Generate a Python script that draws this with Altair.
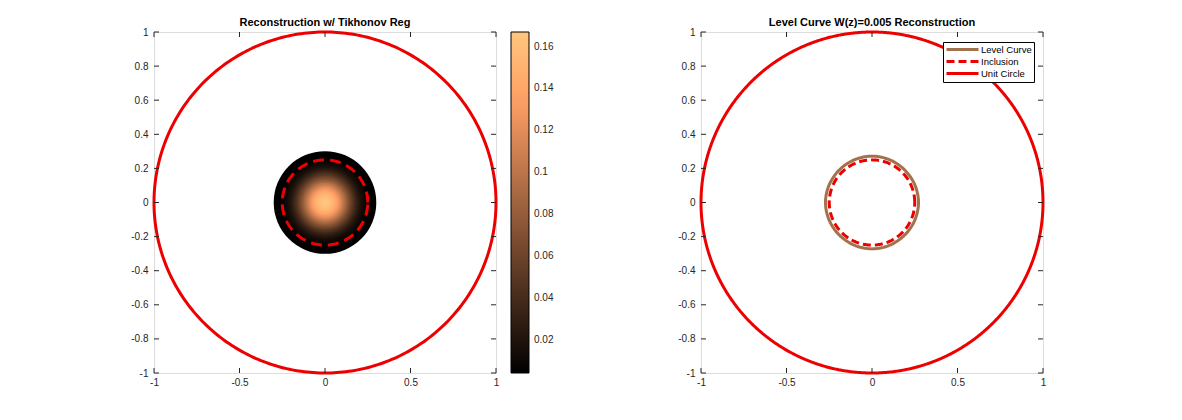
import numpy as np
import pandas as pd
import altair as alt

# ---------------- data ----------------
axis_x_ticks = [-1, -0.5, 0, 0.5, 1]
axis_y_ticks = [-1, -0.8, -0.6, -0.4, -0.2, 0, 0.2, 0.4, 0.6, 0.8, 1]
colorbar_ticks = [0.02, 0.04, 0.06, 0.08, 0.1, 0.12, 0.14, 0.16]
color_domain = [0.004, 0.167]

# radial profile of the Tikhonov reconstruction (value vs radius)
profile_r = [0.00, 0.01, 0.02, 0.03, 0.04, 0.05, 0.06, 0.07, 0.08, 0.09, 0.10,
             0.11, 0.12, 0.13, 0.14, 0.15, 0.16, 0.17, 0.18, 0.19, 0.20,
             0.21, 0.22, 0.23, 0.24, 0.25, 0.26, 0.27, 0.28, 0.29, 0.30]
profile_v = [0.167, 0.166, 0.164, 0.160, 0.156, 0.150, 0.144, 0.136, 0.128, 0.119, 0.109,
             0.099, 0.089, 0.079, 0.069, 0.060, 0.051, 0.043, 0.035, 0.029, 0.023,
             0.018, 0.014, 0.011, 0.008, 0.006, 0.005, 0.004, 0.004, 0.004, 0.004]
profile_step = 0.01

unit_radius = 1.0
inclusion_radius = 0.25

# level curve W(z)=0.005 radii at evenly spaced angles (degrees)
level_angles = [0, 22.5, 45, 67.5, 90, 112.5, 135, 157.5, 180, 202.5, 225, 247.5, 270, 292.5, 315, 337.5]
level_radii = [0.272, 0.271, 0.270, 0.271, 0.272, 0.271, 0.270, 0.271, 0.272, 0.271, 0.270, 0.271, 0.272, 0.271, 0.270, 0.271]

series_names = ["Level Curve", "Inclusion", "Unit Circle"]
series_colors = ["#A3714B", "#EE0000", "#EE0000"]

# ---------------- tables ----------------
W, H = 342, 341
RED = "#EE0000"
TXT = "#262626"
FONT = "Liberation Sans"

# concentric rings of the reconstruction, drawn outermost first
heat_df = pd.DataFrame({"r": np.array(profile_r) + profile_step / 2, "v": profile_v})
heat_df["r"] = heat_df["r"].clip(upper=profile_r[-1])
heat_df = heat_df.iloc[::-1].reset_index(drop=True)

theta = np.linspace(0, 2 * np.pi, 361)


def circle_df(r, name):
    return pd.DataFrame({"x": r * np.cos(theta), "y": r * np.sin(theta),
                         "i": np.arange(len(theta)), "series": name})


unit_df = circle_df(unit_radius, "Unit Circle")
incl_df = circle_df(inclusion_radius, "Inclusion")
la = np.deg2rad(level_angles)
lr = np.array(level_radii)
level_df = pd.DataFrame({"x": lr * np.cos(la), "y": lr * np.sin(la),
                         "i": np.arange(len(la)), "series": "Level Curve"})

xt_df = pd.DataFrame({"t": axis_x_ticks})
yt_df = pd.DataFrame({"t": axis_y_ticks})

xscale = alt.Scale(domain=[-1, 1], nice=False, zero=False)
yscale = alt.Scale(domain=[-1, 1], nice=False, zero=False)
xaxis = alt.Axis(values=axis_x_ticks, ticks=False, domain=False, grid=False,
                 labelPadding=4, labelFontSize=10, labelColor=TXT, title=None,
                 labelExpr="toString(datum.value)", labelFont=FONT,
                 labelOverlap=False, labelFlush=False, tickCount=5)
yaxis = alt.Axis(values=axis_y_ticks, ticks=False, domain=False, grid=False,
                 labelPadding=6, labelFontSize=10, labelColor=TXT, title=None,
                 labelExpr="toString(datum.value)", labelFont=FONT,
                 labelOverlap=False, labelFlush=False, tickCount=11)


def tick_layers():
    tl = 5
    bx = alt.Chart(xt_df).mark_rule(color=TXT, strokeWidth=1).encode(
        x=alt.X("t:Q", scale=xscale, axis=xaxis), y=alt.value(H), y2=alt.value(H - tl))
    tx = alt.Chart(xt_df).mark_rule(color=TXT, strokeWidth=1).encode(
        x=alt.X("t:Q", scale=xscale, axis=xaxis), y=alt.value(0), y2=alt.value(tl))
    ly = alt.Chart(yt_df).mark_rule(color=TXT, strokeWidth=1).encode(
        y=alt.Y("t:Q", scale=yscale, axis=yaxis), x=alt.value(0), x2=alt.value(tl))
    ry = alt.Chart(yt_df).mark_rule(color=TXT, strokeWidth=1).encode(
        y=alt.Y("t:Q", scale=yscale, axis=yaxis), x=alt.value(W), x2=alt.value(W - tl))
    return [bx, tx, ly, ry]


def title(text):
    return alt.TitleParams(text=text, fontSize=11, fontWeight="bold", color="#000000",
                           font=FONT, anchor="middle", offset=-2, frame="group")


# ---------------- left panel ----------------
heat = alt.Chart(heat_df).mark_arc(theta=0, theta2=6.2832, strokeWidth=0).encode(
    x=alt.value(W / 2), y=alt.value(H / 2),
    radius=alt.Radius("r:Q", stack=None,
                      scale=alt.Scale(type="linear", domain=[0, 1], range=[0, W / 2],
                                      zero=True, nice=False)),
    color=alt.Color("v:Q",
                    scale=alt.Scale(domain=[color_domain[0],
                                            color_domain[0] + 0.8 * (color_domain[1] - color_domain[0]),
                                            color_domain[1]],
                                    range=["#000000", "#FF9F65", "#FFC77F"],
                                    interpolate="rgb", clamp=True),
                    legend=alt.Legend(orient="none", legendX=W + 15, legendY=0,
                                      direction="vertical", title=None,
                                      gradientLength=H, gradientThickness=18,
                                      gradientStrokeColor="#000000", gradientStrokeWidth=1,
                                      values=colorbar_ticks, format="~g",
                                      labelFontSize=10, labelColor=TXT, labelOffset=5,
                                      labelFont=FONT)),
)

left_unit = alt.Chart(unit_df).mark_line(color=RED, strokeWidth=3).encode(
    x=alt.X("x:Q", scale=xscale, axis=xaxis), y=alt.Y("y:Q", scale=yscale, axis=yaxis), order="i:Q")
left_incl = alt.Chart(incl_df).mark_line(color=RED, strokeWidth=3, strokeDash=[11, 6]).encode(
    x=alt.X("x:Q", scale=xscale, axis=xaxis), y=alt.Y("y:Q", scale=yscale, axis=yaxis), order="i:Q")

left = alt.layer(heat, left_unit, left_incl, *tick_layers()).properties(
    width=W, height=H, title=title("Reconstruction w/ Tikhonov Reg"))

# ---------------- right panel ----------------
color_scale = alt.Scale(domain=series_names, range=series_colors)
dash_scale = alt.Scale(domain=series_names, range=[[1, 0], [8, 4], [1, 0]])
legend = alt.Legend(orient="none", legendX=242, legendY=10, title=None,
                    symbolType="M-1,0H7", symbolSize=64,
                    symbolStrokeWidth=3, labelFontSize=9.5, labelColor="#000000",
                    labelFont=FONT, labelOffset=25,
                    strokeColor="#000000", fillColor="#FFFFFF", padding=2, rowPadding=-2.5,
                    offset=0)

enc = dict(
    x=alt.X("x:Q", scale=xscale, axis=xaxis), y=alt.Y("y:Q", scale=yscale, axis=yaxis),
    color=alt.Color("series:N", scale=color_scale, legend=legend, sort=series_names),
    strokeDash=alt.StrokeDash("series:N", scale=dash_scale, legend=legend, sort=series_names),
    detail="series:N", order="i:Q")

right_level = alt.Chart(level_df).mark_line(strokeWidth=3, interpolate="cardinal-closed").encode(**enc)
right_circ = alt.Chart(pd.concat([incl_df, unit_df], ignore_index=True)).mark_line(strokeWidth=3).encode(**enc)

right = alt.layer(right_level, right_circ, *tick_layers()).properties(
    width=W, height=H, title=title("Level Curve W(z)=0.005 Reconstruction"))

chart = alt.hconcat(left, right, spacing=122).resolve_scale(
    color="independent", strokeDash="independent").resolve_legend(
    color="independent", strokeDash="independent").properties(
    padding={"left": 130, "top": 16, "right": 0, "bottom": 0}
).configure_view(stroke="#000000", strokeWidth=1).configure_axis(
    labelOverlap=False).configure(background="white")

chart.save("out.html", embed_options={"renderer": "svg", "actions": False})
